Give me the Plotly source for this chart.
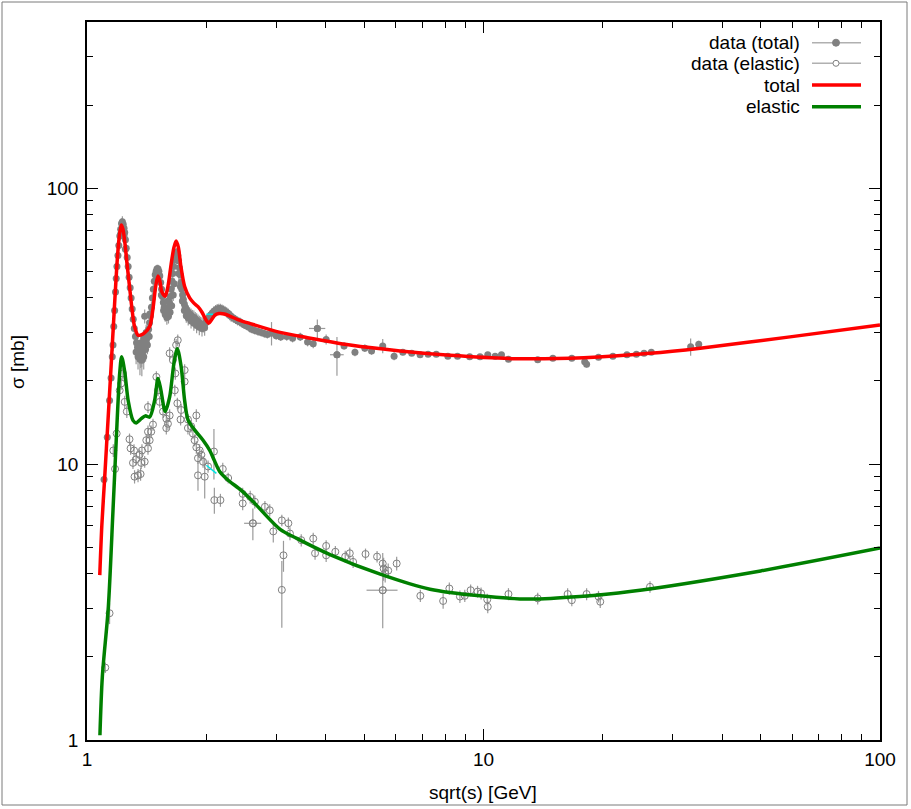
import plotly.graph_objects as go

# ---------------- data ----------------
# total cross-section data: x = sqrt(s) [GeV], y = sigma [mb], err = sigma error [mb]
tot_x = [1.104, 1.125, 1.14, 1.15, 1.158, 1.163, 1.168, 1.174, 1.18, 1.185,
         1.19, 1.197, 1.203, 1.21, 1.216, 1.222, 1.228, 1.234, 1.24, 1.245,
         1.25, 1.256, 1.263, 1.27, 1.277, 1.285, 1.292, 1.3, 1.308, 1.316,
         1.325, 1.333, 1.341, 1.35, 1.358, 1.366, 1.374, 1.382, 1.39, 1.398,
         1.406, 1.414, 1.422, 1.43, 1.438, 1.446, 1.454, 1.462, 1.47, 1.478,
         1.486, 1.494, 1.502, 1.51, 1.518, 1.526, 1.534, 1.542, 1.55, 1.558,
         1.566, 1.574, 1.582, 1.59, 1.598, 1.606, 1.614, 1.622, 1.63, 1.638,
         1.646, 1.654, 1.662, 1.67, 1.678, 1.686, 1.694, 1.702, 1.71, 1.718,
         1.726, 1.734, 1.742, 1.75, 1.76, 1.77, 1.78, 1.79, 1.80, 1.815,
         1.83, 1.845, 1.86, 1.875, 1.89, 1.905, 1.92, 1.935, 1.95, 1.965,
         1.98, 1.995, 2.01, 2.03, 2.05, 2.07, 2.09, 2.11, 2.13, 2.15,
         2.17, 2.19, 2.21, 2.23, 2.25, 2.27, 2.29, 2.31, 2.34, 2.37,
         2.40, 2.43, 2.46, 2.49, 2.52, 2.56, 2.60, 2.65, 2.70, 2.75,
         2.80, 2.85, 2.92, 3.0, 3.08, 3.19, 3.3, 3.45, 3.6, 3.72,
         3.81, 4.01, 4.27, 4.45, 4.74, 5.02, 5.22, 5.57, 5.95, 6.26,
         6.59, 6.92, 7.25, 7.6, 8.13, 8.6, 9.23, 9.8, 10.25, 10.7,
         11.1, 11.56, 13.7, 14.96, 16.7, 18.0, 18.2, 19.5, 21.2, 23.0,
         24.3, 25.4, 26.5, 33.3, 34.9,
         1.33, 1.345, 1.36, 1.375, 1.39, 1.405, 1.42, 1.435, 1.56, 1.575,
         1.59, 1.605, 1.62, 1.635, 1.65, 1.66, 1.705, 1.72, 1.74, 1.76,
         1.78, 1.80, 1.83, 1.86, 1.89, 1.92, 1.95, 1.98, 1.50, 1.52,
         1.54, 1.60, 1.68, 1.24, 1.215, 1.25, 1.23, 1.37, 1.39, 1.41,
         1.44, 1.398]
tot_y = [8.8, 12.5, 17.0, 20.5, 24.5, 27.0, 31.5, 36.0, 42.0, 47.0,
         52.0, 57.0, 62.0, 67.0, 71.0, 74.5, 75.5, 74.0, 71.5, 69.0,
         65.0, 60.5, 56.0, 52.0, 47.5, 43.5, 40.0, 36.5, 33.5, 31.0,
         29.0, 27.5, 26.5, 25.8, 25.2, 24.8, 25.0, 25.6, 26.2, 26.8,
         27.6, 28.5, 29.5, 30.8, 32.5, 34.5, 37.0, 40.0, 43.0, 46.0,
         48.5, 50.0, 51.0, 51.0, 50.0, 48.0, 45.5, 43.0, 40.5, 38.5,
         37.0, 36.0, 35.5, 35.5, 36.0, 37.0, 38.5, 40.5, 43.0, 46.0,
         49.0, 52.0, 55.0, 57.0, 58.5, 58.5, 57.0, 54.5, 51.5, 48.5,
         45.5, 43.0, 41.0, 39.5, 38.0, 37.0, 36.3, 35.8, 35.5, 35.0,
         34.6, 34.2, 34.0, 33.6, 33.2, 32.8, 32.5, 32.2, 32.0, 32.0,
         32.2, 32.6, 33.2, 34.0, 34.7, 35.3, 35.8, 36.2, 36.5, 36.6,
         36.6, 36.4, 36.1, 35.8, 35.5, 35.1, 34.7, 34.3, 33.8, 33.4,
         33.0, 32.8, 32.4, 32.0, 31.7, 31.3, 30.8, 30.5, 30.2, 30.0,
         29.7, 29.5, 29.8, 29.2, 28.9, 29.0, 28.6, 28.9, 27.7, 27.3,
         31.0, 28.3, 24.9, 26.8, 25.4, 26.3, 25.7, 26.8, 24.6, 25.4,
         25.2, 24.9, 25.0, 25.0, 24.6, 24.6, 24.5, 24.5, 24.9, 24.6,
         24.9, 24.0, 23.9, 24.2, 24.2, 23.5, 23.0, 24.4, 24.6, 24.9,
         25.0, 25.2, 25.4, 26.6, 27.2,
         25.5, 24.5, 24.0, 23.8, 24.5, 26.0, 27.0, 29.0, 36.0, 34.8,
         34.0, 34.3, 35.5, 37.5, 41.0, 45.0, 49.0, 44.0, 39.0, 36.0,
         34.5, 33.8, 33.0, 32.4, 31.8, 31.3, 31.0, 31.2, 49.0, 48.5,
         41.0, 39.0, 55.0, 67.0, 68.0, 60.0, 70.0, 27.5, 28.5, 30.0,
         35.0, 34.3]
tot_err = [0.4, 0.6, 0.8, 1.0, 1.2, 1.3, 1.5, 1.6, 1.8, 2.0,
           2.2, 2.4, 2.6, 2.8, 3.0, 3.2, 3.5, 3.3, 3.0, 2.8,
           2.6, 2.4, 2.2, 2.0, 2.0, 2.0, 2.0, 2.0, 2.0, 2.0,
           2.0, 2.0, 2.0, 2.0, 2.2, 2.5, 2.5, 2.4, 2.2, 2.5,
           2.0, 2.0, 2.0, 1.8, 1.8, 1.8, 1.8, 1.8, 1.8, 1.8,
           1.8, 1.8, 1.8, 1.8, 1.8, 1.8, 1.8, 1.8, 1.8, 2.0,
           2.0, 2.0, 2.0, 2.0, 2.0, 2.0, 2.0, 2.0, 2.0, 2.0,
           2.0, 2.0, 2.0, 2.0, 2.0, 2.0, 2.0, 2.0, 2.0, 2.0,
           2.0, 2.0, 2.0, 2.0, 2.0, 2.0, 2.0, 2.0, 2.0, 2.0,
           2.0, 2.0, 2.0, 2.0, 2.0, 2.0, 2.0, 2.0, 2.0, 2.0,
           2.0, 1.5, 1.5, 1.5, 1.5, 1.5, 1.5, 1.5, 1.5, 1.5,
           1.5, 1.5, 1.5, 1.5, 1.5, 1.5, 1.5, 1.5, 1.2, 1.2,
           1.2, 1.2, 1.0, 1.0, 1.0, 1.0, 1.0, 1.0, 1.0, 1.0,
           1.0, 1.0, 2.9, 1.0, 1.0, 1.0, 1.0, 1.0, 1.0, 1.0,
           2.4, 1.2, 4.0, 0.8, 0.8, 0.8, 0.8, 1.6, 0.8, 0.6,
           0.5, 0.5, 0.5, 0.5, 0.5, 0.5, 0.5, 0.5, 0.5, 0.5,
           0.5, 0.5, 0.5, 0.5, 0.5, 0.5, 0.6, 0.5, 0.5, 0.5,
           0.5, 0.5, 0.5, 1.9, 0.8,
           2.5, 2.5, 3.0, 3.0, 2.5, 2.5, 2.0, 2.0, 2.0, 2.0,
           2.0, 2.0, 2.0, 2.0, 2.0, 2.0, 2.5, 2.0, 2.0, 2.0,
           2.0, 2.0, 2.0, 2.0, 2.0, 2.0, 2.0, 2.0, 2.0, 2.0,
           2.0, 2.0, 2.0, 3.0, 3.0, 3.0, 3.0, 2.0, 2.0, 2.0,
           2.0, 2.0]
# total points that also carry a horizontal (energy) error bar
totx_x = [3.81, 4.27]
totx_y = [31.0, 24.9]
totx_xerr = [0.18, 0.17]

# elastic cross-section data
el_x = [1.112, 1.14, 1.165, 1.177, 1.188, 1.209, 1.22, 1.232, 1.245, 1.26,
        1.28, 1.288, 1.306, 1.314, 1.318, 1.33, 1.345, 1.357, 1.365, 1.37,
        1.376, 1.398, 1.411, 1.425, 1.425, 1.425, 1.439, 1.452, 1.467, 1.496,
        1.51, 1.525, 1.555, 1.585, 1.585, 1.6, 1.616, 1.616, 1.647, 1.67,
        1.665, 1.678, 1.694, 1.69, 1.722, 1.728, 1.763, 1.763, 1.797, 1.797,
        1.831, 1.85, 1.868, 1.887, 1.887, 1.905, 1.905, 1.924, 1.943, 1.962,
        1.981, 2.02, 2.09, 2.095, 2.17, 2.2, 2.27, 2.47, 2.47, 2.58,
        2.65, 2.62, 2.81, 2.89, 2.95, 3.1, 3.13, 3.1, 3.22, 3.25,
        3.47, 3.72, 3.76, 4.01, 4.01, 4.23, 4.48, 4.6, 4.69, 5.04,
        5.39, 5.57, 5.6, 5.65, 5.57, 5.75, 6.04, 6.93, 7.91, 8.2,
        8.72, 8.97, 9.28, 9.66, 9.86, 10.22, 10.25, 11.56, 13.7, 16.3,
        16.7, 18.2, 19.5, 19.7, 26.3]
el_y = [1.83, 2.88, 11.2, 9.6, 12.9, 18.5, 19.6, 21.3, 16.8, 15.5,
        12.3, 11.4, 10.1, 11.2, 9.0, 10.4, 9.1, 10.8, 9.2, 10.1,
        11.2, 10.2, 12.2, 11.4, 13.1, 16.1, 12.2, 13.1, 13.9, 20.7,
        18.5, 16.8, 15.5, 14.6, 13.5, 14.0, 15.0, 25.2, 23.8, 21.3,
        18.5, 27.0, 28.1, 16.6, 14.5, 15.7, 21.9, 19.9, 14.5, 13.5,
        13.7, 12.9, 12.2, 11.5, 15.0, 10.5, 9.1, 11.2, 10.8, 10.2,
        9.0, 9.8, 11.1, 7.4, 7.4, 9.6, 8.9, 7.8, 7.2, 7.6,
        7.3, 6.1, 7.0, 6.8, 5.7, 6.25, 4.67, 3.5, 6.1, 5.6,
        5.3, 5.37, 4.75, 5.05, 4.67, 4.81, 4.62, 4.75, 4.42, 4.72,
        4.62, 4.36, 4.18, 4.02, 3.49, 4.11, 4.36, 3.33, 3.19, 3.54,
        3.31, 3.33, 3.49, 3.45, 3.40, 3.23, 3.04, 3.38, 3.26, 3.38,
        3.21, 3.38, 3.31, 3.17, 3.59]
el_err = [0.08, 0.25, 0.6, 0.5, 0.7, 0.9, 1.0, 1.1, 0.9, 0.8,
          0.6, 0.6, 0.5, 0.6, 0.5, 0.5, 0.5, 0.5, 0.5, 0.5,
          0.6, 0.5, 0.6, 0.6, 0.7, 0.8, 0.6, 0.7, 0.7, 1.0,
          0.9, 0.8, 0.8, 0.7, 0.7, 0.7, 0.8, 1.3, 1.2, 1.1,
          0.9, 1.4, 1.4, 0.8, 0.7, 0.8, 1.1, 1.0, 0.7, 0.7,
          0.7, 0.6, 0.6, 0.6, 0.8, 0.5, 1.1, 0.6, 0.5, 0.5,
          1.5, 0.5, 2.3, 0.8, 0.4, 0.5, 0.4, 0.4, 0.4, 0.4,
          0.4, 0.8, 0.35, 0.35, 0.5, 0.3, 0.6, 0.95, 0.3, 0.3,
          0.27, 0.27, 0.25, 0.25, 0.25, 0.24, 0.23, 0.23, 0.22, 0.22,
          0.22, 0.4, 0.4, 0.3, 0.95, 0.25, 0.25, 0.17, 0.2, 0.18,
          0.17, 0.17, 0.17, 0.17, 0.17, 0.16, 0.16, 0.17, 0.16, 0.17,
          0.16, 0.17, 0.16, 0.16, 0.17]
elx_x = [2.62, 5.57]
elx_y = [6.1, 3.49]
elx_xerr = [0.13, 0.5]

# model curves (knots)
total_cx = [1.077, 1.09, 1.108, 1.13, 1.151, 1.17, 1.19, 1.205, 1.22, 1.232,
            1.245, 1.262, 1.28, 1.3, 1.318, 1.345, 1.37, 1.398, 1.439, 1.465,
            1.49, 1.51, 1.527, 1.545, 1.575, 1.6, 1.63, 1.657, 1.678, 1.70,
            1.725, 1.763, 1.815, 1.86, 1.905, 1.95, 1.98, 2.027, 2.06, 2.1,
            2.15, 2.22, 2.3, 2.4, 2.58, 3.07, 3.6, 4.61, 6.16, 8.23,
            12.1, 17.9, 26.3, 35.2, 59.3, 100.0]
total_cy = [3.96, 6.0, 8.9, 14.5, 23.0, 35.0, 53.0, 66.0, 73.5, 71.0,
            64.0, 53.0, 44.0, 36.0, 31.5, 29.3, 29.4, 29.9, 31.5, 36.0,
            44.0, 48.0, 46.0, 42.0, 40.6, 44.0, 53.0, 61.0, 64.3, 61.0,
            52.0, 44.0, 40.0, 38.3, 37.2, 35.5, 34.0, 32.4, 33.3, 34.6,
            35.1, 35.0, 34.3, 33.4, 32.3, 30.0, 28.7, 27.0, 25.7, 24.8,
            24.1, 24.3, 25.2, 26.3, 28.9, 31.9]
elastic_cx = [1.078, 1.093, 1.132, 1.163, 1.185, 1.209, 1.223, 1.245, 1.27, 1.306,
              1.33, 1.37, 1.403, 1.439, 1.481, 1.51, 1.533, 1.575, 1.616, 1.657,
              1.69, 1.728, 1.763, 1.797, 1.868, 1.962, 2.04, 2.095, 2.16, 2.27,
              2.45, 2.65, 3.07, 3.38, 4.1, 5.49, 7.33, 9.8, 13.1, 17.5,
              23.4, 50.0, 100.0]
elastic_cy = [1.04, 1.69, 3.04, 6.8, 12.2, 21.3, 24.5, 21.6, 17.0, 14.4,
              14.1, 14.6, 14.95, 14.8, 17.0, 20.4, 18.8, 15.5, 17.5, 23.2,
              26.2, 22.5, 17.0, 14.5, 13.3, 12.2, 11.2, 10.3, 9.4, 8.74,
              8.03, 7.2, 5.8, 5.38, 4.7, 3.99, 3.52, 3.33, 3.24, 3.31,
              3.45, 4.1, 4.96]
# short pieces of a third (cyan) curve visible near 2 GeV
cyan_tot_x = [2.0, 2.08]
cyan_tot_y = [34.9, 34.9]
cyan_el_x = [2.0, 2.12]
cyan_el_y = [9.9, 9.25]

x_ticks = [1, 10, 100]
y_ticks = [1, 10, 100]
x_minor = [2, 3, 4, 5, 6, 7, 8, 9, 20, 30, 40, 50, 60, 70, 80, 90]
y_minor = [2, 3, 4, 5, 6, 7, 8, 9, 20, 30, 40, 50, 60, 70, 80, 90, 200, 300, 400]

legend_labels = ["data (total)", "data (elastic)", "total", "elastic"]

# ---------------- figure ----------------
GRAY = "#808080"
ERRC = "#9a9a9a"
FONT = "Liberation Sans, Arial, Helvetica, sans-serif"
FS = 19

fig = go.Figure()

fig.add_trace(go.Scatter(
    x=tot_x, y=tot_y, mode="markers",
    marker=dict(symbol="circle", size=7, color=GRAY),
    error_y=dict(type="data", array=tot_err, color=ERRC, thickness=1.2, width=0),
    showlegend=False, hoverinfo="skip"))
fig.add_trace(go.Scatter(
    x=totx_x, y=totx_y, mode="markers",
    marker=dict(symbol="circle", size=7, color=GRAY),
    error_x=dict(type="data", array=totx_xerr, color=ERRC, thickness=1.2, width=0),
    showlegend=False, hoverinfo="skip"))
fig.add_trace(go.Scatter(
    x=el_x, y=el_y, mode="markers",
    marker=dict(symbol="circle-open", size=7, color=GRAY, line=dict(width=1, color=GRAY)),
    error_y=dict(type="data", array=el_err, color=ERRC, thickness=1.2, width=0),
    showlegend=False, hoverinfo="skip"))
fig.add_trace(go.Scatter(
    x=elx_x, y=elx_y, mode="markers",
    marker=dict(symbol="circle-open", size=7, color=GRAY, line=dict(width=1, color=GRAY)),
    error_x=dict(type="data", array=elx_xerr, color=ERRC, thickness=1.2, width=0),
    showlegend=False, hoverinfo="skip"))

for cx, cy in ((cyan_tot_x, cyan_tot_y), (cyan_el_x, cyan_el_y)):
    fig.add_trace(go.Scatter(x=cx, y=cy, mode="lines",
                             line=dict(color="#00e5e5", width=1.5),
                             showlegend=False, hoverinfo="skip"))

fig.add_trace(go.Scatter(
    x=total_cx, y=total_cy, mode="lines",
    line=dict(color="#ff0000", width=3.5, shape="spline", smoothing=0.8),
    showlegend=False, hoverinfo="skip"))
fig.add_trace(go.Scatter(
    x=elastic_cx, y=elastic_cy, mode="lines",
    line=dict(color="#008000", width=3.5, shape="spline", smoothing=0.8),
    showlegend=False, hoverinfo="skip"))

# ---------------- layout geometry ----------------
W, H = 911, 809
L, R, T, B = 87, 31, 22, 69
pw, ph = W - L - R, H - T - B


def px(xp):
    return (xp - L) / pw


def py(yp):
    return (H - B - yp) / ph


axis_common = dict(
    type="log", tickmode="array", ticks="inside", ticklen=11, tickwidth=1,
    tickcolor="black", showline=True, linecolor="black", linewidth=1.5,
    mirror="allticks", showgrid=False, zeroline=False,
    tickfont=dict(family=FONT, size=FS, color="black"),
)

fig.update_layout(
    width=W, height=H,
    margin=dict(l=L, r=R, t=T, b=B, pad=0),
    paper_bgcolor="white", plot_bgcolor="white",
    font=dict(family=FONT, size=FS, color="black"),
    hovermode=False,
    xaxis=dict(axis_common, range=[0, 2], tickvals=x_ticks,
               ticktext=[str(v) for v in x_ticks], ticklabelstandoff=1,
               minor=dict(tickmode="array", tickvals=x_minor, ticks="inside",
                          ticklen=6, tickwidth=1, tickcolor="black", showgrid=False)),
    yaxis=dict(axis_common, range=[0, 2.602], tickvals=y_ticks,
               ticktext=[str(v) for v in y_ticks], ticklabelstandoff=3,
               minor=dict(tickmode="array", tickvals=y_minor, ticks="inside",
                          ticklen=6, tickwidth=1, tickcolor="black", showgrid=False)),
)

annotations = [
    dict(text="sqrt(s) [GeV]", x=px(483), y=py(792), xref="paper", yref="paper",
         showarrow=False, xanchor="center", yanchor="middle",
         font=dict(family=FONT, size=FS, color="black")),
    dict(text="σ [mb]", x=px(18), y=py(362), xref="paper", yref="paper",
         showarrow=False, xanchor="center", yanchor="middle", textangle=-90,
         font=dict(family=FONT, size=FS, color="black")),
]
leg_y = [42.7, 63.3, 85.0, 106.7]
for lab, yy in zip(legend_labels, leg_y):
    annotations.append(dict(text=lab, x=px(802), y=py(yy), xref="paper", yref="paper",
                            showarrow=False, xanchor="right", yanchor="middle",
                            font=dict(family=FONT, size=FS, color="black")))
fig.update_layout(annotations=annotations)

shapes = [
    # outer frame of the picture
    dict(type="rect", xref="paper", yref="paper", x0=px(2), x1=px(907), y0=py(805), y1=py(2),
         line=dict(color="#7a7a7a", width=1), layer="below"),
]
leg_colors = ["#b0b0b0", "#b0b0b0", "#ff0000", "#008000"]
leg_w = [1.5, 1.5, 3.5, 3.5]
for yy, c, w in zip(leg_y, leg_colors, leg_w):
    shapes.append(dict(type="line", xref="paper", yref="paper", x0=px(812), x1=px(861),
                       y0=py(yy), y1=py(yy), line=dict(color=c, width=w)))
# legend markers
shapes.append(dict(type="circle", xref="paper", yref="paper", xsizemode="pixel", ysizemode="pixel",
                   xanchor=px(836), yanchor=py(leg_y[0]), x0=-3.5, x1=3.5, y0=-3.5, y1=3.5,
                   fillcolor=GRAY, line=dict(color=GRAY, width=1)))
shapes.append(dict(type="circle", xref="paper", yref="paper", xsizemode="pixel", ysizemode="pixel",
                   xanchor=px(836), yanchor=py(leg_y[1]), x0=-3, x1=3, y0=-3, y1=3,
                   fillcolor="white", line=dict(color=GRAY, width=1)))
fig.update_layout(shapes=shapes)

# the page body has a default 8px margin; remove it so the figure fills the window
fig.write_html("out.html",
               config={"displayModeBar": False},
               post_script="document.body.style.margin='0';document.body.style.overflow='hidden';")
